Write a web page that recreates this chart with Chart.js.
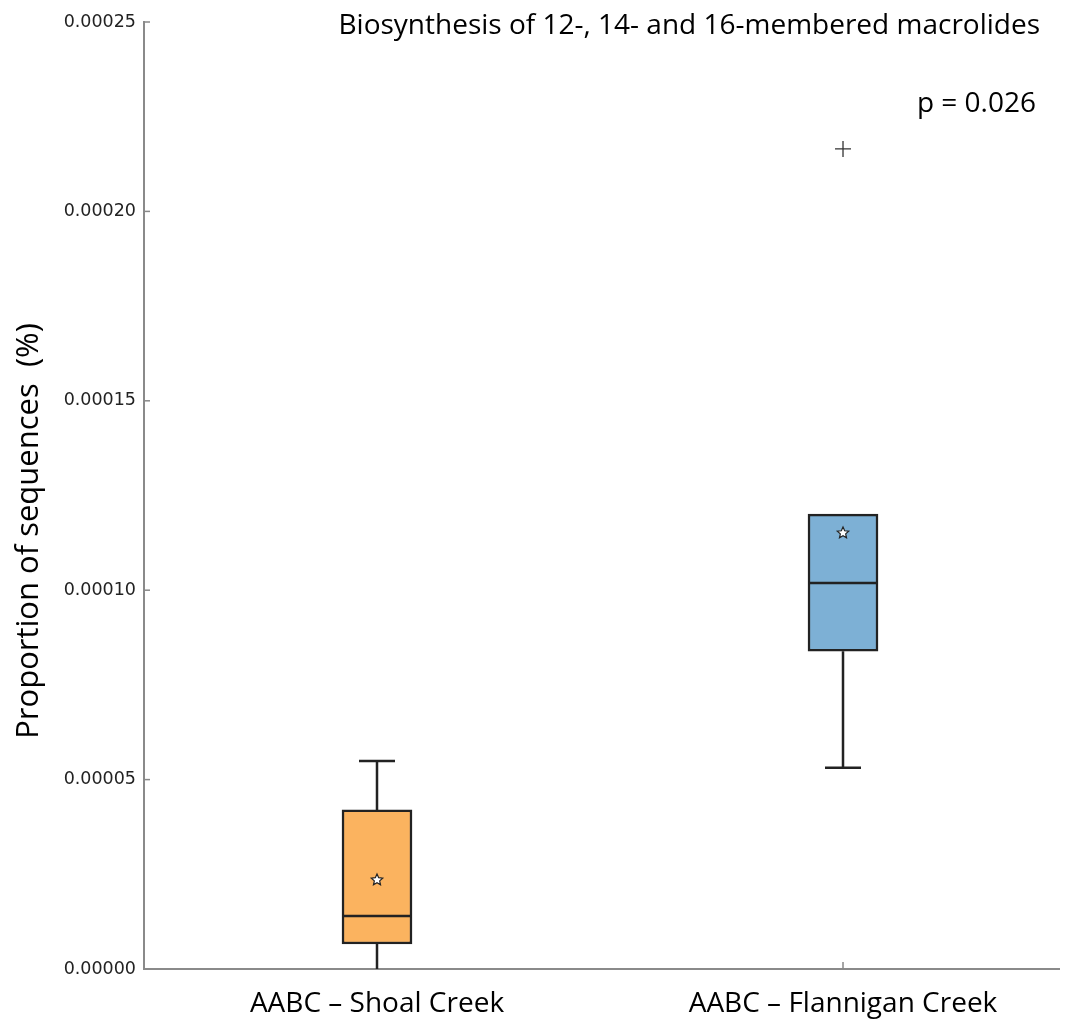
<!DOCTYPE html>
<html>
<head>
<meta charset="utf-8">
<script src="https://cdn.jsdelivr.net/npm/chart.js@4.4.1/dist/chart.umd.min.js"></script>
<style>
  html, body { margin: 0; padding: 0; background: #fff; }
  #wrap { width: 1069px; height: 1026px; }
</style>
</head>
<body>
<div id="wrap"><canvas id="box"></canvas></div>
<script>
// Данные диаграммы (оценены по картинке)
const categories = ['AABC – Shoal Creek', 'AABC – Flannigan Creek'];
const positions = [1, 2];
const q1 = [0.0000066, 0.0000839];
const q3 = [0.0000420, 0.0001201];
const medians = [0.0000140, 0.0001019];
const means = [0.0000235, 0.0001151];
const whiskerLow = [0, 0.0000531];
const whiskerHigh = [0.0000549, 0.0001201];
const outliers = [[], [0.0002165]];
const yTicks = [0, 0.00005, 0.00010, 0.00015, 0.00020, 0.00025];
const boxColors = ['#FBB35F', '#7DB0D5'];

const chartTitle = 'Biosynthesis of 12-, 14- and 16-membered macrolides';
const pLabel = 'p = 0.026';
const yTitle = 'Proportion of sequences  (%)';

const textFont = '"Open Sans", sans-serif';

// Пятиконечная звезда для среднего
function drawStar(ctx, cx, cy, rOut, rIn) {
  ctx.save();
  ctx.beginPath();
  for (let i = 0; i < 10; i++) {
    const r = i % 2 === 0 ? rOut : rIn;
    const a = -Math.PI / 2 + i * Math.PI / 5;
    const px = cx + r * Math.cos(a);
    const py = cy + r * Math.sin(a);
    if (i === 0) ctx.moveTo(px, py); else ctx.lineTo(px, py);
  }
  ctx.closePath();
  ctx.fillStyle = '#ffffff';
  ctx.fill();
  ctx.strokeStyle = '#222';
  ctx.lineWidth = 1.2;
  ctx.stroke();
  ctx.restore();
}

// Усы, медианы, средние, внутренние засечки и подписи
const boxExtras = {
  id: 'boxExtras',
  afterDatasetsDraw(chart) {
    const { ctx, chartArea, scales: { x, y } } = chart;
    ctx.save();

    // засечки внутрь
    ctx.strokeStyle = '#888';
    ctx.lineWidth = 1.5;
    yTicks.forEach((v) => {
      const py = y.getPixelForValue(v);
      ctx.beginPath();
      ctx.moveTo(chartArea.left, py);
      ctx.lineTo(chartArea.left + 6, py);
      ctx.stroke();
    });
    positions.forEach((v) => {
      const px = x.getPixelForValue(v);
      ctx.beginPath();
      ctx.moveTo(px, chartArea.bottom);
      ctx.lineTo(px, chartArea.bottom - 7);
      ctx.stroke();
    });

    positions.forEach((pos, i) => {
      const cx = x.getPixelForValue(pos);
      const capHalf = 18;
      const boxHalf = 35;
      ctx.strokeStyle = '#222';
      ctx.lineWidth = 2.5;
      // верхний ус
      if (whiskerHigh[i] > q3[i]) {
        ctx.beginPath();
        ctx.moveTo(cx, y.getPixelForValue(q3[i]));
        ctx.lineTo(cx, y.getPixelForValue(whiskerHigh[i]));
        ctx.moveTo(cx - capHalf, y.getPixelForValue(whiskerHigh[i]));
        ctx.lineTo(cx + capHalf, y.getPixelForValue(whiskerHigh[i]));
        ctx.stroke();
      }
      // нижний ус
      if (whiskerLow[i] < q1[i]) {
        ctx.beginPath();
        ctx.moveTo(cx, y.getPixelForValue(q1[i]));
        ctx.lineTo(cx, y.getPixelForValue(whiskerLow[i]));
        if (whiskerLow[i] > y.min) {
          ctx.moveTo(cx - capHalf, y.getPixelForValue(whiskerLow[i]));
          ctx.lineTo(cx + capHalf, y.getPixelForValue(whiskerLow[i]));
        }
        ctx.stroke();
      }
      // медиана
      ctx.beginPath();
      ctx.moveTo(cx - boxHalf, y.getPixelForValue(medians[i]));
      ctx.lineTo(cx + boxHalf, y.getPixelForValue(medians[i]));
      ctx.stroke();
      // среднее
      drawStar(ctx, cx, y.getPixelForValue(means[i]), 6, 2.8);
    });

    // подписи в поле графика
    ctx.fillStyle = '#000';
    ctx.textAlign = 'right';
    ctx.textBaseline = 'middle';
    ctx.font = '28px ' + textFont;
    ctx.fillText(chartTitle, 1040, 26);
    ctx.fillText(pLabel, 1036, 104);

    // подпись оси Y
    ctx.save();
    ctx.translate(29, 531);
    ctx.rotate(-Math.PI / 2);
    ctx.textAlign = 'center';
    ctx.font = '31px ' + textFont;
    ctx.fillText(yTitle, 0, 0);
    ctx.restore();

    ctx.restore();
  },
};

const chartConfig = {
  type: 'bar',
  data: {
    datasets: [
      {
        label: 'box',
        data: positions.map((p, i) => ({ x: p, y: [q1[i], q3[i]] })),
        backgroundColor: boxColors,
        borderColor: '#222',
        borderWidth: 2.5,
        borderSkipped: false,
        barThickness: 70,
      },
      {
        type: 'scatter',
        label: 'outliers',
        data: positions.flatMap((p, i) => outliers[i].map((v) => ({ x: p, y: v }))),
        pointStyle: 'cross',
        pointRadius: 8,
        borderColor: '#333',
        borderWidth: 1.3,
      },
    ],
  },
  options: {
    responsive: true,
    maintainAspectRatio: false,
    animation: false,
    layout: { padding: { top: 22, right: 0, left: 0, bottom: 0 } },
    plugins: {
      legend: { display: false },
      tooltip: { enabled: false },
    },
    scales: {
      x: {
        type: 'linear',
        offset: false,
        min: 0.5,
        max: 2.465,
        grid: { display: false, drawTicks: false, offset: false },
        border: { color: '#8a8a8a', width: 2 },
        afterBuildTicks: (scale) => { scale.ticks = positions.map((v) => ({ value: v })); },
        afterFit: (scale) => { scale.height = 57; },
        ticks: {
          callback: (v) => categories[positions.indexOf(v)],
          color: '#000',
          font: { family: textFont, size: 28 },
          padding: 18,
          maxRotation: 0,
        },
      },
      y: {
        min: 0,
        max: 0.00025,
        grid: { display: false, drawTicks: false },
        border: { color: '#8a8a8a', width: 2 },
        afterBuildTicks: (scale) => { scale.ticks = yTicks.map((v) => ({ value: v })); },
        afterFit: (scale) => { scale.width = 144; },
        ticks: {
          callback: (v) => v.toFixed(5),
          color: '#222',
          font: { family: '"DejaVu Sans", sans-serif', size: 17.5 },
          padding: 8,
        },
      },
    },
  },
  plugins: [boxExtras],
};

new Chart(document.getElementById('box'), chartConfig);
</script>
</body>
</html>
